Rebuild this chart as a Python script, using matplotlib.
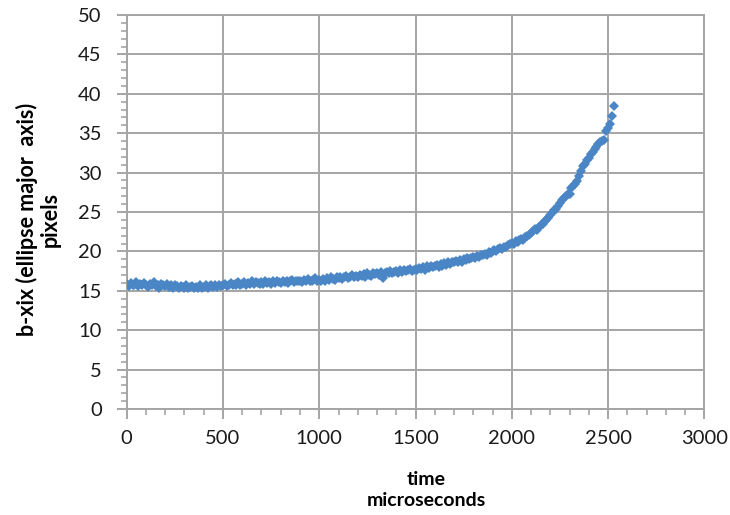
import numpy as np
import matplotlib
matplotlib.use("Agg")
import matplotlib.pyplot as plt
from matplotlib.ticker import MultipleLocator

# time samples every 10 microseconds
time_us = list(range(0, 2540, 10))

# b-xix values, one row per 100 microseconds
b_xix = [
    15.9, 15.6, 16.0, 15.7, 15.8, 16.1, 15.6, 15.9, 15.7, 16.0,
    15.8, 15.5, 15.9, 15.7, 16.1, 15.6, 15.8, 15.4, 15.9, 15.7,
    15.6, 15.9, 15.5, 15.8, 15.4, 15.7, 15.6, 15.3, 15.6, 15.5,
    15.4, 15.7, 15.3, 15.5, 15.6, 15.3, 15.5, 15.4, 15.7, 15.4,
    15.5, 15.7, 15.4, 15.6, 15.8, 15.5, 15.7, 15.5, 15.8, 15.6,
    15.7, 15.9, 15.6, 15.8, 16.0, 15.7, 15.9, 15.8, 16.1, 15.8,
    15.9, 16.1, 15.8, 16.0, 15.9, 16.2, 15.9, 16.1, 16.0, 15.9,
    16.1, 15.9, 16.2, 16.0, 16.1, 15.9, 16.2, 16.0, 16.3, 16.1,
    16.0, 16.2, 16.1, 16.3, 16.0, 16.2, 16.4, 16.1, 16.3, 16.2,
    16.3, 16.1, 16.4, 16.2, 16.5, 16.3, 16.2, 16.4, 16.6, 16.3,
    16.4, 16.2, 16.5, 16.3, 16.6, 16.4, 16.7, 16.5, 16.4, 16.7,
    16.6, 16.8, 16.5, 16.7, 16.9, 16.6, 16.8, 17.0, 16.7, 16.9,
    16.8, 17.0, 16.9, 17.1, 16.8, 17.2, 17.0, 16.9, 17.2, 17.1,
    17.3, 17.0, 17.4, 16.6, 17.2, 17.4, 17.3, 17.5, 17.2, 17.4,
    17.5, 17.3, 17.6, 17.4, 17.7, 17.5, 17.6, 17.8, 17.5, 17.7,
    17.8, 17.6, 17.9, 17.8, 18.0, 17.7, 18.1, 17.9, 18.2, 18.0,
    18.1, 18.3, 18.0, 18.4, 18.2, 18.5, 18.3, 18.6, 18.4, 18.7,
    18.6, 18.8, 18.7, 18.9, 18.6, 19.0, 18.9, 19.1, 19.0, 19.2,
    19.3, 19.1, 19.4, 19.3, 19.6, 19.5, 19.7, 19.6, 19.9, 19.8,
    20.0, 20.2, 20.0, 20.3, 20.4, 20.3, 20.6, 20.5, 20.8, 20.9,
    21.1, 21.0, 21.3, 21.2, 21.5, 21.6, 21.5, 21.8, 21.9, 22.1,
    22.3, 22.6, 22.8, 22.7, 23.1, 23.3, 23.5, 23.8, 24.0, 24.3,
    24.6, 24.9, 25.2, 25.4, 25.8, 26.1, 26.5, 26.8, 27.0, 27.3,
    27.3, 28.0, 28.3, 28.6, 28.9, 29.6, 30.2, 30.8, 31.1, 31.6,
    31.9, 32.4, 32.6, 33.0, 33.2, 33.6, 33.9, 34.0, 34.1, 35.3,
    35.6, 36.2, 37.2, 38.4,
]

grey = "#A5A5A5"
plt.rcParams["font.family"] = ["Lato", "DejaVu Sans"]

fig = plt.figure(figsize=(7.3, 5.15), dpi=100)
ax = fig.add_axes([0.1736, 0.2058, 0.7912, 0.7651])

ax.plot(time_us, b_xix, linestyle="none", marker="D", markersize=4.8,
        color="#4A86C6", markeredgewidth=0, zorder=3)

ax.set_xlim(0, 3000)
ax.set_ylim(0, 50)
ax.xaxis.set_major_locator(MultipleLocator(500))
ax.xaxis.set_minor_locator(MultipleLocator(100))
ax.yaxis.set_major_locator(MultipleLocator(5))
ax.yaxis.set_minor_locator(MultipleLocator(1))

ax.grid(True, which="major", color=grey, linewidth=1.4)
ax.set_axisbelow(True)
for side in ["left", "bottom", "top", "right"]:
    ax.spines[side].set_color(grey)
    ax.spines[side].set_linewidth(1.4)

ax.tick_params(which="major", direction="out", length=7, width=1.4,
               color=grey, labelsize=14.5, labelcolor="#1a1a1a")
ax.tick_params(which="minor", direction="out", length=4, width=1.2, color=grey)
ax.tick_params(axis="x", pad=8)
ax.tick_params(axis="y", pad=11)

ax.set_xlabel("time\nmicroseconds", fontsize=14, fontweight="bold",
              linespacing=1.25)
ax.xaxis.set_label_coords(0.518, -0.158)
ax.set_ylabel("b-xix (ellipse major  axis)\npixels", fontsize=15.5,
              fontweight="bold", linespacing=1.1)
ax.yaxis.set_label_coords(-0.115, 0.48)

fig.savefig("out.png", dpi=100, facecolor="white")
